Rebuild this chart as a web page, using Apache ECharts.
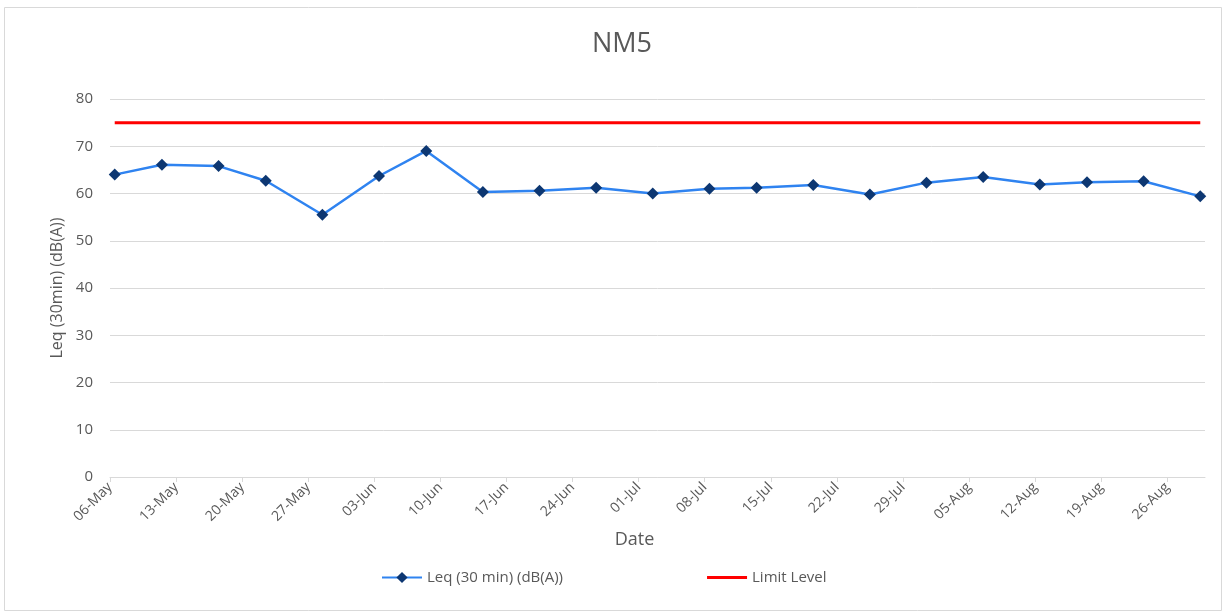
<!DOCTYPE html>
<html>
<head>
<meta charset="utf-8">
<title>NM5</title>
<script src="https://cdn.jsdelivr.net/npm/echarts@6/dist/echarts.min.js"></script>
<style>
  body { margin: 0; padding: 0; background: #fff; }
  #chart { width: 1225px; height: 612px; }
</style>
</head>
<body>
<div id="chart"></div>
<script>
const dates = [
  "2019-05-06", "2019-05-11", "2019-05-17", "2019-05-22", "2019-05-28",
  "2019-06-03", "2019-06-08", "2019-06-14", "2019-06-20", "2019-06-26",
  "2019-07-02", "2019-07-08", "2019-07-13", "2019-07-19", "2019-07-25",
  "2019-07-31", "2019-08-06", "2019-08-12", "2019-08-17", "2019-08-23",
  "2019-08-29"
];
const leq = [
  64.0, 66.1, 65.8, 62.7, 55.5,
  63.7, 69.0, 60.3, 60.6, 61.2,
  60.0, 61.0, 61.2, 61.8, 59.8,
  62.3, 63.5, 61.9, 62.4, 62.6,
  59.4
];
const limitLevel = 75;
const tickLabels = [
  "06-May", "13-May", "20-May", "27-May", "03-Jun", "10-Jun", "17-Jun",
  "24-Jun", "01-Jul", "08-Jul", "15-Jul", "22-Jul", "29-Jul", "05-Aug",
  "12-Aug", "19-Aug", "26-Aug"
];
const axisStart = "2019-05-06";
const axisDays = 116; // axis runs to the end of 29-Aug

// x as days since the axis start, each date centred in its day slot
const DAY = 86400000;
const t0 = Date.parse(axisStart + "T00:00:00Z");
const xs = dates.map(d => (Date.parse(d + "T00:00:00Z") - t0) / DAY + 0.5);
const tickDays = tickLabels.map((_, i) => i * 7);

const grey = "#595959";
const font = "'Open Sans', sans-serif";

const chart = echarts.init(document.getElementById("chart"));
chart.setOption({
  animation: false,
  title: {
    text: "NM5",
    left: 617,
    top: 26,
    textAlign: "center",
    textStyle: { color: grey, fontSize: 27, fontWeight: "normal", fontFamily: font }
  },
  legend: {
    left: 376,
    top: 565,
    itemWidth: 40,
    itemHeight: 14,
    itemGap: 144,
    textStyle: { color: grey, fontSize: 15, fontFamily: font },
    data: [
      "Leq (30 min) (dB(A))",
      // plain red stroke, no marker
      { name: "Limit Level", icon: "path://M0,0H40V3H0Z" }
    ]
  },
  grid: { left: 110, right: 20, top: 99, bottom: 135 },
  xAxis: {
    type: "value",
    min: 0,
    max: axisDays,
    name: "Date",
    nameLocation: "middle",
    nameGap: 48,
    nameTextStyle: { color: grey, fontSize: 18, fontFamily: font, padding: [0, 46, 0, 0] },
    axisLine: { lineStyle: { color: "#d9d9d9", width: 1 } },
    axisTick: { show: true, length: 5, lineStyle: { color: "#d9d9d9" }, customValues: tickDays },
    axisLabel: {
      customValues: tickDays,
      rotate: 45,
      margin: 8,
      color: grey,
      fontSize: 14,
      fontFamily: font,
      formatter: v => tickLabels[Math.round(v / 7)] || ""
    },
    splitLine: { show: false }
  },
  yAxis: {
    type: "value",
    min: 0,
    max: 80,
    interval: 10,
    name: "Leq (30min) (dB(A))",
    nameLocation: "middle",
    nameGap: 45,
    nameTextStyle: { color: grey, fontSize: 16, fontFamily: font },
    axisLine: { show: false },
    axisTick: { show: false },
    axisLabel: { color: grey, fontSize: 15, fontFamily: font, margin: 17 },
    splitLine: { lineStyle: { color: "#d9d9d9", width: 1 } }
  },
  graphic: [{
    type: "rect",
    shape: { x: 4.5, y: 7.5, width: 1217, height: 603 },
    style: { fill: "none", stroke: "#d9d9d9", lineWidth: 1 },
    silent: true
  }],
  series: [
    {
      name: "Leq (30 min) (dB(A))",
      type: "line",
      data: xs.map((x, i) => [x, leq[i]]),
      symbol: "diamond",
      symbolSize: 12,
      lineStyle: { color: "#2f83f0", width: 2.5 },
      itemStyle: { color: "#0d3772" },
      z: 3
    },
    {
      name: "Limit Level",
      type: "line",
      data: xs.map(x => [x, limitLevel]),
      symbol: "none",
      lineStyle: { color: "#ff0000", width: 3 },
      itemStyle: { color: "#ff0000" },
      z: 2
    }
  ]
});
</script>
</body>
</html>
